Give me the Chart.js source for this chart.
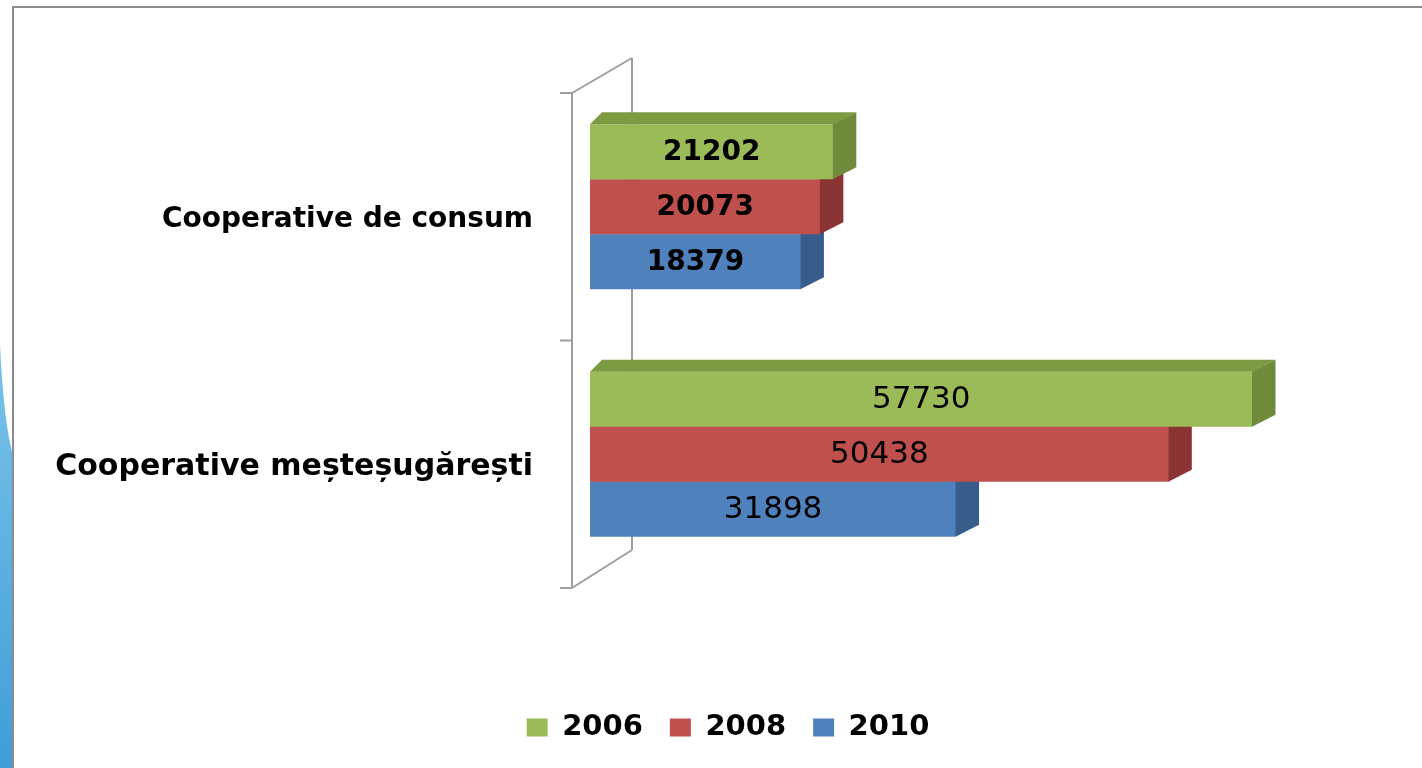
<!DOCTYPE html>
<html>
<head>
<meta charset="utf-8">
<script src="https://cdn.jsdelivr.net/npm/chart.js@4.4.1/dist/chart.umd.min.js"></script>
<style>
  html, body { margin: 0; padding: 0; background: #fff; }
  #wrap { width: 1422px; height: 768px; }
</style>
</head>
<body>
<div id="wrap"><canvas id="coopChart" width="1422" height="768"></canvas></div>
<script>
// date
const categories = ['Cooperative de consum', 'Cooperative meșteșugărești'];
const years = ['2006', '2008', '2010'];
const values2006 = [21202, 57730];
const values2008 = [20073, 50438];
const values2010 = [18379, 31898];

const frontColors = ['#9BBB59', '#C0504D', '#4F81BD'];
const sideColors = ['#6F8A3A', '#8A3533', '#385D8A'];
const topColors = ['#7B9A42', '#9E3F3C', '#41699A'];

const DX = 23, DY = 12, DX_LEFT = 12, SHIFT = -10;
const FONT = '"DejaVu Sans", sans-serif';

// perete 3D, rama si banda albastra din stanga
const look3d = {
  id: 'look3d',
  beforeLayout(chart) {
    const lg = chart.legend;
    if (lg && !lg._patched) {
      const fit = lg.fit;
      lg.fit = function () { fit.call(this); this.height = 82; };
      lg._patched = true;
    }
  },
  beforeDraw(chart) {
    const ctx = chart.ctx;
    ctx.save();
    const g = ctx.createLinearGradient(0, 340, 0, 768);
    g.addColorStop(0, '#7CC4EA');
    g.addColorStop(1, '#3F9DD7');
    ctx.fillStyle = g;
    ctx.beginPath();
    ctx.moveTo(0, 345);
    ctx.quadraticCurveTo(4, 425, 13, 455);
    ctx.lineTo(13, 768);
    ctx.lineTo(0, 768);
    ctx.closePath();
    ctx.fill();

    ctx.strokeStyle = '#8C8C8C';
    ctx.lineWidth = 2;
    ctx.beginPath();
    ctx.moveTo(1422, 7);
    ctx.lineTo(13, 7);
    ctx.lineTo(13, 768);
    ctx.stroke();
    ctx.restore();
  },
  beforeDatasetsDraw(chart) {
    const ctx = chart.ctx;
    const a = chart.chartArea;
    const fx = a.left - 18, bx = a.left + 42;
    const yScale = chart.scales.y;
    const mid = (yScale.getPixelForValue(0) + yScale.getPixelForValue(1)) / 2;
    ctx.save();
    ctx.strokeStyle = '#9E9E9E';
    ctx.lineWidth = 2;
    ctx.beginPath();
    ctx.moveTo(fx, a.top);
    ctx.lineTo(fx, a.bottom);
    ctx.moveTo(bx, a.top - 35);
    ctx.lineTo(bx, a.bottom - 38);
    ctx.moveTo(fx, a.top);
    ctx.lineTo(bx, a.top - 35);
    ctx.moveTo(fx, a.bottom);
    ctx.lineTo(bx, a.bottom - 38);
    [a.top, mid, a.bottom].forEach(y => {
      ctx.moveTo(fx - 12, y);
      ctx.lineTo(fx, y);
    });
    ctx.stroke();
    ctx.restore();

    ctx.save();
    ctx.translate(0, SHIFT);
  },
  afterDatasetDraw(chart, args) {
    const ctx = chart.ctx;
    const i = args.index;
    args.meta.data.forEach(bar => {
      const p = bar.getProps(['x', 'y', 'base', 'height'], true);
      const x0 = p.base, x1 = p.x;
      const yT = p.y - p.height / 2, yB = p.y + p.height / 2;
      ctx.fillStyle = topColors[i];
      ctx.beginPath();
      ctx.moveTo(x0, yT);
      ctx.lineTo(x0 + DX_LEFT, yT - DY);
      ctx.lineTo(x1 + DX, yT - DY);
      ctx.lineTo(x1, yT);
      ctx.closePath();
      ctx.fill();
      ctx.fillStyle = sideColors[i];
      ctx.beginPath();
      ctx.moveTo(x1 - 0.5, yT);
      ctx.lineTo(x1 + DX, yT - DY);
      ctx.lineTo(x1 + DX, yB - DY);
      ctx.lineTo(x1 - 0.5, yB);
      ctx.closePath();
      ctx.fill();
    });
  },
  afterDatasetsDraw(chart) {
    const ctx = chart.ctx;
    ctx.fillStyle = '#000';
    ctx.textAlign = 'center';
    ctx.textBaseline = 'middle';
    chart.data.datasets.forEach((ds, i) => {
      chart.getDatasetMeta(i).data.forEach((bar, j) => {
        const p = bar.getProps(['x', 'y', 'base'], true);
        ctx.font = j === 0 ? 'bold 28px ' + FONT : '31px ' + FONT;
        ctx.fillText(ds.data[j], (p.x + p.base) / 2, p.y + 1);
      });
    });
    ctx.restore();
  }
};

const seriesValues = [values2006, values2008, values2010];

new Chart(document.getElementById('coopChart'), {
  type: 'bar',
  data: {
    labels: categories,
    datasets: years.map((y, i) => ({
      label: y,
      data: seriesValues[i],
      backgroundColor: frontColors[i],
      borderWidth: 0,
      barPercentage: 1,
      categoryPercentage: 0.667,
      clip: false
    }))
  },
  options: {
    indexAxis: 'y',
    responsive: false,
    animation: false,
    layout: { padding: { left: 34, top: 93, right: 0, bottom: 0 } },
    plugins: {
      tooltip: { enabled: false },
      legend: {
        position: 'bottom',
        labels: {
          boxWidth: 21,
          boxHeight: 18,
          padding: 27,
          color: '#000',
          font: { family: FONT, size: 29, weight: 'bold' }
        }
      }
    },
    scales: {
      x: {
        min: 0,
        max: 72500,
        ticks: { display: false },
        grid: { display: false },
        border: { display: false },
        afterFit: s => { s.height = 98; }
      },
      y: {
        grid: { display: false, drawTicks: false },
        border: { display: false },
        ticks: {
          color: '#000',
          padding: 57,
          labelOffset: 3,
          font: c => c.index === 0
            ? { family: FONT, size: 28, weight: 'bold' }
            : { family: FONT, size: 30, weight: 'bold' }
        },
        afterFit: s => { s.width = 556; }
      }
    }
  },
  plugins: [look3d]
});
</script>
</body>
</html>
